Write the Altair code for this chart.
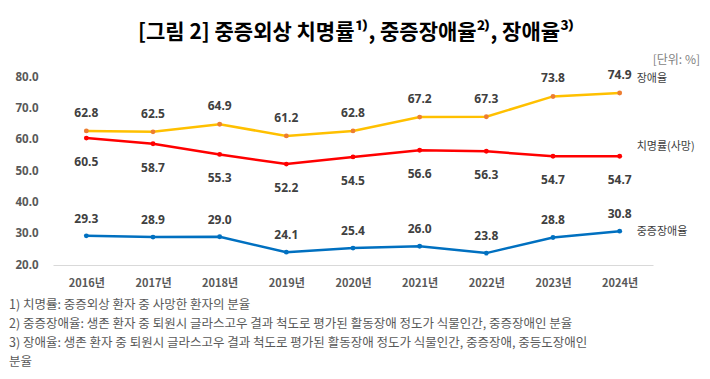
import altair as alt
import pandas as pd

years = ["2016년", "2017년", "2018년", "2019년", "2020년", "2021년", "2022년", "2023년", "2024년"]
disability = [62.8, 62.5, 64.9, 61.2, 62.8, 67.2, 67.3, 73.8, 74.9]
fatality = [60.5, 58.7, 55.3, 52.2, 54.5, 56.6, 56.3, 54.7, 54.7]
severe = [29.3, 28.9, 29.0, 24.1, 25.4, 26.0, 23.8, 28.8, 30.8]
series_names = ["장애율", "치명률(사망)", "중증장애율"]
y_ticks = [20, 30, 40, 50, 60, 70, 80]

title_text = "[그림 2] 중증외상 치명률¹⁾, 중증장애율²⁾, 장애율³⁾"
unit_text = "[단위: %]"
notes = [
    "1) 치명률: 중증외상 환자 중 사망한 환자의 분율",
    "2) 중증장애율: 생존 환자 중 퇴원시 글라스고우 결과 척도로 평가된 활동장애 정도가 식물인간, 중증장애인 분율",
    "3) 장애율: 생존 환자 중 퇴원시 글라스고우 결과 척도로 평가된 활동장애 정도가 식물인간, 중증장애, 중등도장애인",
    "분율",
]

rows = []
for name, vals in zip(series_names, [disability, fatality, severe]):
    for yr, v in zip(years, vals):
        rows.append({"year": yr, "series": name, "value": v})
df = pd.DataFrame(rows)

KR = "Noto Sans CJK KR"
NUM = "Noto Sans"

W, H = 600, 188
PL, PT = 45, 69
OX, OY = 8 + PL, 8 + PT  # plot origin in page pixels

xenc = alt.X(
    "year:N", sort=years,
    scale=alt.Scale(type="point", padding=0.5),
    axis=alt.Axis(title=None, labelAngle=0, ticks=False, domainColor="#D9D9D9",
                  domainWidth=1, labelFont=KR, labelFontWeight="bold",
                  labelFontSize=11, labelColor="#595959", labelPadding=12),
)
yenc = alt.Y(
    "value:Q", scale=alt.Scale(domain=[20, 80], nice=False, zero=False),
    axis=alt.Axis(title=None, values=y_ticks, format=".1f", grid=False, domain=False,
                  ticks=False, labelPadding=15, labelFont=NUM, labelFontWeight="bold",
                  labelFontSize=11.5, labelColor="#595959"),
)

styles = {
    "장애율": dict(line="#FFC000", point="#ED7D31", dy=-18, ldy=-14),
    "치명률(사망)": dict(line="#FF0000", point="#FF0000", dy=24, ldy=-9),
    "중증장애율": dict(line="#0070C0", point="#0070C0", dy=-17, ldy=1),
}

base = alt.Chart(df)
layers = []
for name in series_names:
    s = styles[name]
    b = base.transform_filter(alt.datum.series == name)
    layers.append(b.mark_line(strokeWidth=2.5, color=s["line"]).encode(x=xenc, y=yenc))
    layers.append(b.mark_circle(size=24, opacity=1, color=s["point"]).encode(x=xenc, y=yenc))
    layers.append(
        b.mark_text(font=NUM, fontWeight="bold", fontSize=12, color="#404040", dy=s["dy"])
        .encode(x=xenc, y=yenc, text=alt.Text("value:Q", format=".1f"))
    )
    layers.append(
        b.transform_filter(alt.datum.year == years[-1])
        .mark_text(font=KR, fontSize=11, color="#404040", align="left", dx=17, dy=s["ldy"])
        .encode(x=xenc, y=yenc, text=alt.value(name))
    )

one = alt.Data(values=[{}])
layers.append(
    alt.Chart(one).mark_text(font=KR, fontWeight="bold", fontSize=21, color="#000000",
                             align="center", baseline="middle")
    .encode(x=alt.value(356 - OX), y=alt.value(33 - OY), text=alt.value(title_text))
)
layers.append(
    alt.Chart(one).mark_text(font=KR, fontSize=12, color="#7F7F7F", align="right", baseline="middle")
    .encode(x=alt.value(700 - OX), y=alt.value(60 - OY), text=alt.value(unit_text))
)
for txt, yy in zip(notes, [305, 324, 343, 362]):
    layers.append(
        alt.Chart(one).mark_text(font=KR, fontSize=12.5, color="#595959", align="left", baseline="middle")
        .encode(x=alt.value(9 - OX), y=alt.value(yy - OY), text=alt.value(txt))
    )

chart = alt.layer(*layers).properties(
    width=W, height=H,
    padding={"left": PL, "top": PT, "right": 694 - PL - W, "bottom": 363 - PT - H},
    autosize=alt.AutoSizeParams(type="none"),
    background="#FFFFFF",
).configure_view(stroke=None)

chart.save("out.html", embed_options={"renderer": "svg", "actions": False})
